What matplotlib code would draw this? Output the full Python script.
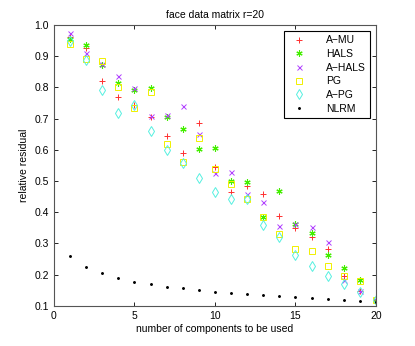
import matplotlib
matplotlib.use("Agg")
import matplotlib.pyplot as plt
import numpy as np

# number of components (x) and relative residual per method
k = np.arange(1, 21)
a_mu = [0.961, 0.927, 0.820, 0.768, 0.744, 0.706, 0.644, 0.589, 0.685, 0.546,
        0.466, 0.485, 0.458, 0.389, 0.350, 0.322, 0.281, 0.195, 0.147, 0.119]
hals = [0.955, 0.936, 0.872, 0.813, 0.790, 0.797, 0.706, 0.667, 0.603, 0.605,
        0.501, 0.496, 0.384, 0.468, 0.361, 0.334, 0.263, 0.220, 0.183, 0.119]
a_hals = [0.973, 0.909, 0.875, 0.837, 0.797, 0.708, 0.712, 0.740, 0.650, 0.527,
          0.530, 0.457, 0.432, 0.356, 0.361, 0.354, 0.306, 0.183, 0.147, 0.119]
pg = [0.939, 0.890, 0.884, 0.802, 0.733, 0.786, 0.620, 0.562, 0.637, 0.540,
      0.490, 0.441, 0.384, 0.329, 0.282, 0.277, 0.228, 0.195, 0.180, 0.119]
a_pg = [0.950, 0.888, 0.790, 0.717, 0.744, 0.660, 0.600, 0.557, 0.509, 0.464,
        0.441, 0.441, 0.359, 0.320, 0.263, 0.228, 0.197, 0.169, 0.145, 0.119]
nlrm = [0.260, 0.224, 0.204, 0.188, 0.178, 0.169, 0.161, 0.156, 0.151, 0.146,
        0.140, 0.137, 0.134, 0.130, 0.128, 0.125, 0.122, 0.119, 0.116, 0.113]

plt.rcParams["font.family"] = ["Liberation Sans", "DejaVu Sans"]

fig = plt.figure(figsize=(4.15, 3.46), dpi=100)
ax = fig.add_axes([0.130, 0.116, 0.776, 0.812])

ax.plot(k, a_mu, ls="none", marker="+", ms=4.8, mew=0.7, color="#ff3030", label="A\u2212MU")
ax.plot(k, hals, ls="none", marker=(6, 2, 0), ms=4.5, mew=0.8, color="#44ee00", label="HALS")
ax.plot(k, a_hals, ls="none", marker="x", ms=3.6, mew=0.7, color="#b040ff", label="A\u2212HALS")
ax.plot(k, pg, ls="none", marker="s", ms=4, mew=0.7, mfc="none", color="#f0f000", label="PG")
ax.plot(k, a_pg, ls="none", marker="d", ms=5, mew=0.7, mfc="none", color="#55f0e0", label="A\u2212PG")
ax.plot(k, nlrm, ls="none", marker=".", ms=2.2, color="black", label="NLRM")

ax.set_xlim(0, 20)
ax.set_ylim(0.1, 1.0)
ax.set_xticks([0, 5, 10, 15, 20])
ax.set_yticks(np.round(np.arange(0.1, 1.01, 0.1), 1))
ax.tick_params(direction="in", top=True, right=True, labelsize=7.5, length=3, width=0.6)
for s in ax.spines.values():
    s.set_linewidth(0.8)
    s.set_color("#555555")

ax.set_xlabel("number of components to be used", fontsize=7.5, labelpad=2)
ax.set_ylabel("relative residual", fontsize=7.5, labelpad=4)
ax.set_title("face data matrix r=20", fontsize=7.5, pad=5)

leg = ax.legend(loc="upper right", fontsize=7.5, fancybox=False, edgecolor="black",
                framealpha=1, borderaxespad=0.6, handletextpad=1.6, labelspacing=0.35,
                borderpad=0.4, handlelength=2)
leg.get_frame().set_linewidth(0.8)

fig.savefig("out.png", dpi=100)
